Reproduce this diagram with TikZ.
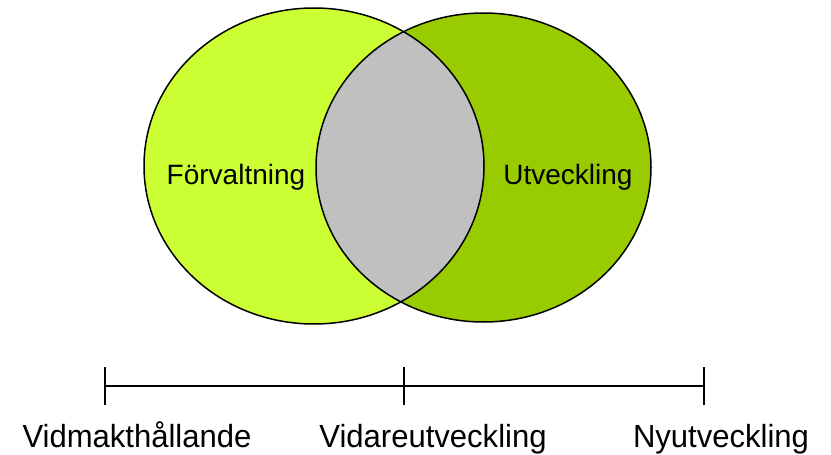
\documentclass[tikz,border=0pt]{standalone}
\usepackage{fontspec}
\setmainfont{Liberation Sans}
\definecolor{limeL}{HTML}{CCFF33}
\definecolor{greenR}{HTML}{99CC00}
\definecolor{grayM}{HTML}{C0C0C0}
\begin{document}
\begin{tikzpicture}[x=1pt,y=-1pt,
  lbl/.style={font=\fontsize{28}{33}\selectfont, inner sep=0pt, anchor=base},
  blbl/.style={font=\fontsize{32}{38}\selectfont, inner sep=0pt, anchor=base},
  outline/.style={draw=black, line width=1.5pt},
  tl/.style={draw=black, line width=1.2pt}]
\useasboundingbox (0,0) rectangle (831,455);
% ellipses
\fill[limeL] (314,166) ellipse [x radius=170, y radius=158];
\fill[greenR] (483.5,167.5) ellipse [x radius=167.5, y radius=154.5];
\begin{scope}
  \clip (314,166) ellipse [x radius=170, y radius=158];
  \fill[grayM] (483.5,167.5) ellipse [x radius=167.5, y radius=154.5];
\end{scope}
\draw[outline] (314,166) ellipse [x radius=170, y radius=158];
\draw[outline] (483.5,167.5) ellipse [x radius=167.5, y radius=154.5];
% labels
\node[lbl] (forv) at (236,184) {Förvaltning};
\node[lbl] (utv) at (568,184) {Utveckling};
% timeline
\coordinate (tA) at (105,386);
\coordinate (tB) at (404,386);
\coordinate (tC) at (704,386);
\draw[tl] (tA) -- (tB) -- (tC);
\draw[tl] ([yshift=-19pt]tA) -- ([yshift=19pt]tA);
\draw[tl] ([yshift=-19pt]tB) -- ([yshift=19pt]tB);
\draw[tl] ([yshift=-19pt]tC) -- ([yshift=19pt]tC);
\node[blbl] (vid) at (137,447) {\scalebox{0.97}[1]{Vidmakthållande}};
\node[blbl] (vidare) at (433,447) {\scalebox{0.97}[1]{Vidareutveckling}};
\node[blbl] (ny) at (721,447) {\scalebox{0.97}[1]{Nyutveckling}};
\end{tikzpicture}
\end{document}
